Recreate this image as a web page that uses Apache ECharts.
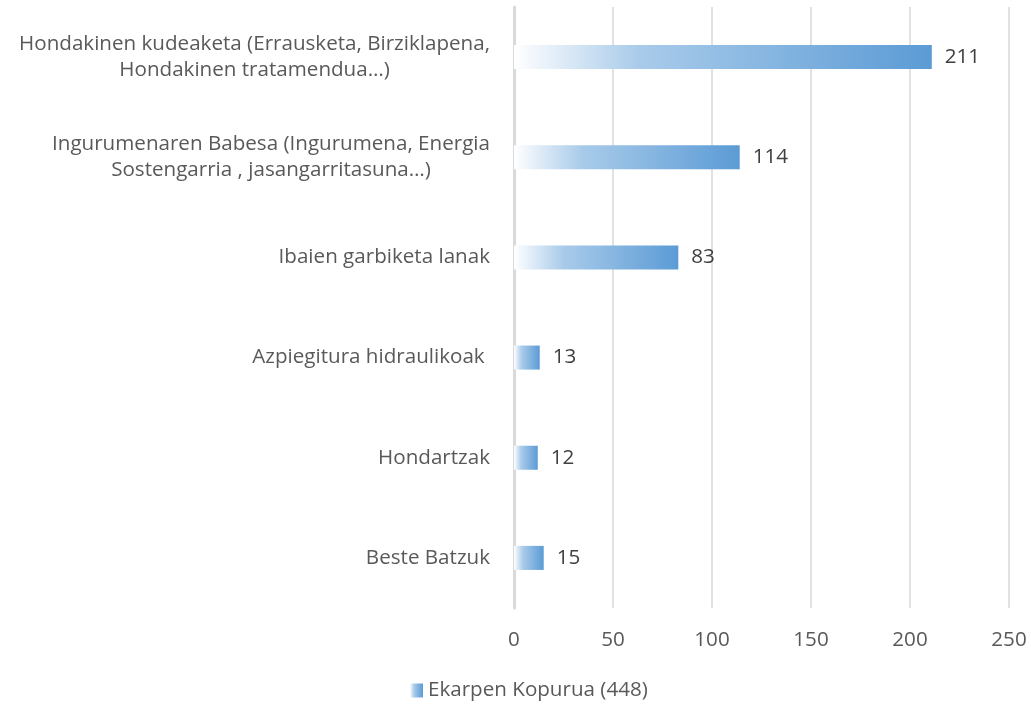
<!DOCTYPE html>
<html>
<head>
<meta charset="utf-8">
<script src="https://cdn.jsdelivr.net/npm/echarts@6/dist/echarts.min.js"></script>
<style>
  html, body { margin: 0; padding: 0; background: #fff; }
  #main { width: 1031px; height: 710px; }
</style>
</head>
<body>
<div id="main"></div>
<script>
var categories = [
    'Hondakinen kudeaketa (Errausketa, Birziklapena,\nHondakinen tratamendua…)',
    'Ingurumenaren Babesa (Ingurumena, Energia\nSostengarria , jasangarritasuna…)',
    'Ibaien garbiketa lanak',
    'Azpiegitura hidraulikoak ',
    'Hondartzak',
    'Beste Batzuk'
];
var values = [211, 114, 83, 13, 12, 15];
var seriesName = 'Ekarpen Kopurua (448)';
var xTicks = [0, 250, 50]; // min, max, interval

window.onload = function () {
    var myChart = echarts.init(document.getElementById('main'));
    var font = '"Open Sans", sans-serif';
    var fs = 20.6;
    var barColor = new echarts.graphic.LinearGradient(0, 0, 1, 0, [
        { offset: 0, color: '#ffffff' },
        { offset: 0.3, color: '#a9cbea' },
        { offset: 1, color: '#5b9bd5' }
    ]);
    var option = {
        animation: false,
        textStyle: { fontFamily: font },
        grid: { left: 514, right: 22, top: 7, bottom: 102 },
        legend: {
            top: 680,
            left: 410,
            padding: 0,
            icon: 'rect',
            itemWidth: 13,
            itemHeight: 14,
            itemGap: 6,
            textStyle: { color: '#595959', fontSize: fs, fontFamily: font },
            data: [seriesName]
        },
        xAxis: {
            type: 'value',
            min: xTicks[0],
            max: xTicks[1],
            interval: xTicks[2],
            axisLine: { show: false },
            axisTick: { show: false },
            splitLine: { lineStyle: { color: '#d9d9d9', width: 1.5 } },
            axisLabel: { color: '#595959', fontSize: fs, margin: 22 }
        },
        yAxis: {
            type: 'category',
            inverse: true,
            data: categories,
            axisLine: { lineStyle: { color: '#d9d9d9', width: 3 } },
            axisTick: { show: false },
            axisLabel: {
                color: '#595959',
                fontSize: fs,
                margin: 24,
                lineHeight: 26,
                formatter: function (v) {
                    return v.split('\n').map(function (s) { return '{c|' + s + '}'; }).join('\n');
                },
                rich: {
                    c: { align: 'center', color: '#595959', fontSize: fs, lineHeight: 26, fontFamily: font }
                }
            }
        },
        series: [{
            name: seriesName,
            type: 'bar',
            data: values,
            barWidth: '24%',
            itemStyle: { color: barColor },
            label: {
                show: true,
                position: 'right',
                distance: 13,
                color: '#404040',
                fontSize: fs,
                fontFamily: font
            }
        }]
    };
    myChart.setOption(option);
};
</script>
</body>
</html>
